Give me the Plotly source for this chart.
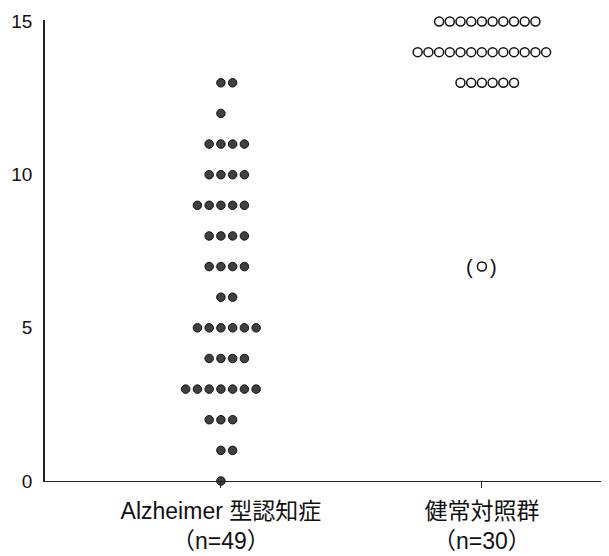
import plotly.graph_objects as go

# ---- data ----
categories = ["Alzheimer 型認知症<br>（n=49）", "健常対照群<br>（n=30）"]
alz_scores = [13, 12, 11, 10, 9, 8, 7, 6, 5, 4, 3, 2, 1, 0]
alz_counts = [2, 1, 4, 4, 5, 4, 4, 2, 6, 4, 7, 3, 2, 1]
ctrl_scores = [15, 14, 13, 7]
ctrl_counts = [10, 13, 6, 1]
y_ticks = [0, 5, 10, 15]

FONT = "Liberation Sans, Arial, Noto Sans CJK JP, sans-serif"


def dot_positions(center, scores, counts, step):
    xs, ys = [], []
    for s, n in zip(scores, counts):
        lo = -((n - 1) // 2)
        for k in range(lo, lo + n):
            xs.append(center + k * step)
            ys.append(s)
    return xs, ys


ax, ay = dot_positions(0, alz_scores, alz_counts, 0.045)
cx, cy = dot_positions(1, ctrl_scores, ctrl_counts, 0.041)

fig = go.Figure()
fig.add_trace(go.Scatter(
    x=ax, y=ay, mode="markers", cliponaxis=False, showlegend=False,
    marker=dict(symbol="circle", size=8.5, color="#404040",
                line=dict(color="#111111", width=1)),
))
fig.add_trace(go.Scatter(
    x=cx, y=cy, mode="markers", cliponaxis=False, showlegend=False,
    marker=dict(symbol="circle-open", size=9, color="#111111",
                line=dict(width=1.5)),
))

# parentheses around the single outlier control point
for sym, sh in (("(", -12), (")", 12)):
    fig.add_annotation(x=1, y=ctrl_scores[-1], text=sym, showarrow=False,
                       xshift=sh, yshift=0,
                       font=dict(size=20, color="#111111", family=FONT))

# page body has an 8px margin, so the figure is sized/offset to compensate
fig.update_layout(
    width=601, height=548,
    margin=dict(l=37, r=0, t=12, b=75),
    paper_bgcolor="white", plot_bgcolor="white",
    font=dict(family=FONT, color="#111111"),
)
fig.update_xaxes(
    range=[-0.674, 1.487], tickvals=[0, 1], ticktext=categories,
    showgrid=False, zeroline=False, showline=True, linecolor="#222222",
    linewidth=1, ticks="outside", ticklen=6, tickcolor="#222222",
    ticklabelstandoff=3, automargin=False,
    tickfont=dict(size=23, family=FONT), fixedrange=True,
)
fig.update_yaxes(
    range=[0, 15.05], tickvals=y_ticks, ticktext=[str(v) for v in y_ticks],
    showgrid=False, zeroline=False, showline=True, linecolor="#222222",
    linewidth=1.5, ticks="", ticklabelstandoff=7, automargin=False,
    tickfont=dict(size=19, family=FONT), fixedrange=True,
)

fig.write_html("out.html")
